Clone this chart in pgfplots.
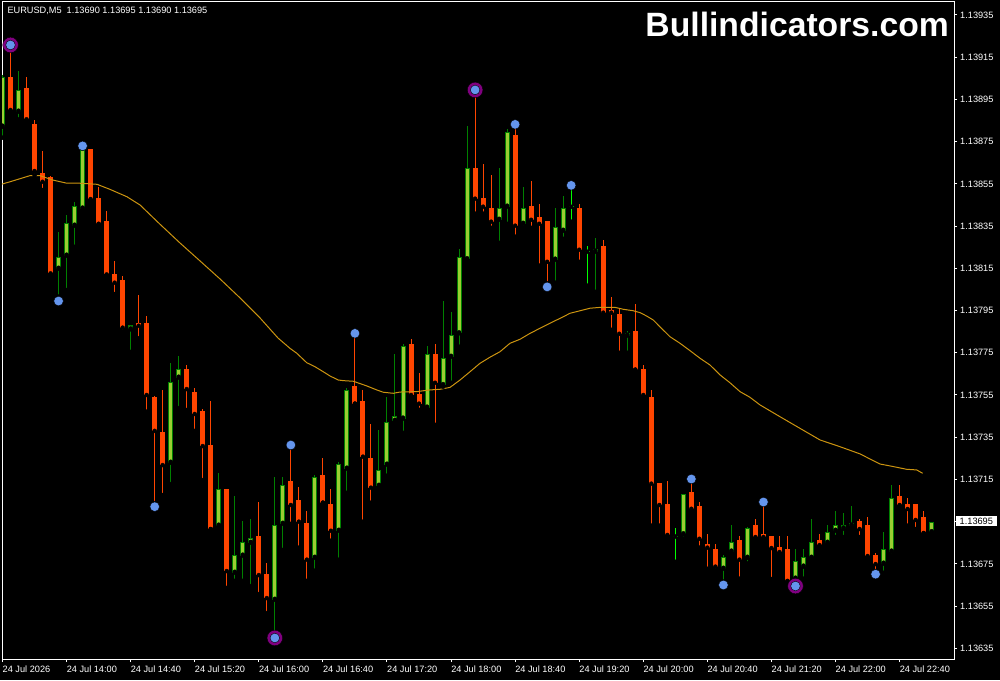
\documentclass[border=0pt]{standalone}
\usepackage{pgfplots}
\pgfplotsset{compat=1.18}
\usepackage{pgfplotstable}
\usepackage{fontspec}
\setmainfont{Liberation Sans}

\definecolor{bullfill}{HTML}{9ACD32}
\definecolor{bulledge}{HTML}{008000}
\definecolor{bear}{HTML}{FF4500}
\definecolor{doji}{HTML}{00FF00}
\definecolor{maline}{HTML}{CC9410}
\definecolor{fractal}{HTML}{6495ED}
\definecolor{ring}{HTML}{800080}

% prices in units of 0.00001 above 1.13000 (e.g. 935 = 1.13935)
\pgfplotstableread{
i O H L C
0 882.1 906.6 876.9 905.8
2 889.2 908.6 885.6 899.5
7 814.8 832.2 801.6 820.4
8 821.0 840.3 804.7 836.5
9 835.2 846.4 825.2 844.5
10 843.3 871.5 841.8 871.1
16 786.1 788.2 775.4 788.2
21 722.9 770.2 712.8 761.2
22 763.2 773.5 748.8 767.3
27 693.1 718.0 693.1 710.5
29 670.8 707.2 667.0 679.2
30 678.9 695.3 667.0 685.4
31 685.0 696.3 664.5 687.3
34 658.0 716.2 641.8 693.4
35 694.0 716.2 681.6 712.4
39 677.9 717.1 671.8 716.2
42 690.7 723.3 677.0 722.3
43 720.1 758.3 708.7 757.4
47 712.0 738.4 711.1 719.5
48 722.0 754.1 716.8 742.2
49 742.8 774.4 742.8 745.1
50 743.8 779.2 737.1 778.2
53 749.0 778.2 749.0 774.4
55 759.7 799.5 758.9 772.5
56 773.1 794.3 760.8 783.3
57 784.2 824.2 777.9 820.2
58 819.3 882.4 819.3 862.4
62 838.0 862.5 827.1 843.4
63 844.2 881.0 836.1 879.6
65 836.1 853.5 834.2 843.6
69 819.1 843.6 808.2 834.6
70 832.8 849.3 829.0 843.6
74 822.9 829.4 803.9 824.0
78 783.1 785.3 775.0 784.2
85 689.0 708.1 686.9 708.0
90 672.7 679.2 666.6 678.3
91 680.8 693.4 680.0 685.2
93 677.9 692.5 675.2 691.9
99 668.0 682.0 665.9 676.4
100 673.7 682.0 668.0 678.3
101 677.9 696.3 677.9 685.4
103 685.0 693.4 683.9 690.1
104 690.7 700.0 687.7 693.4
105 691.7 699.1 687.7 693.4
106 693.1 702.4 691.5 694.4
110 675.1 690.1 670.8 682.0
111 680.8 712.4 678.9 706.2
116 690.0 695.0 690.0 695.0
}\bull

\pgfplotstableread{
i O H L C
1 905.8 919.8 889.2 890.0
3 900.4 905.8 884.9 885.6
4 883.4 885.3 859.1 861.1
5 860.2 870.6 852.1 856.0
6 858.3 858.7 811.8 812.6
11 871.5 871.5 847.0 847.8
12 848.3 853.7 836.0 836.1
13 837.4 842.2 811.8 812.1
14 812.3 818.5 802.8 808.2
15 809.5 811.4 785.0 786.9
17 789.0 802.4 781.9 787.8
18 789.0 792.4 747.1 755.0
19 754.1 754.5 703.8 738.0
20 737.5 757.4 707.6 721.8
23 767.3 769.2 747.9 757.8
24 756.4 758.3 738.0 746.0
25 747.4 748.4 714.7 730.8
26 731.3 752.2 691.5 691.5
28 710.5 710.5 663.6 671.6
32 688.2 704.3 660.7 669.7
33 670.2 675.4 651.7 658.8
36 714.3 729.9 694.0 702.9
37 705.3 711.4 682.7 695.0
38 694.4 700.1 667.0 677.0
40 717.1 725.2 704.0 704.0
41 703.4 710.5 686.0 690.7
44 759.3 782.9 750.9 750.9
45 752.2 757.4 695.0 725.8
46 725.2 741.3 704.0 711.1
51 779.2 781.5 753.6 755.0
52 755.5 765.4 748.0 750.9
54 774.4 779.2 740.9 760.8
59 862.4 898.5 840.9 848.0
60 848.3 864.4 840.9 844.2
61 843.6 859.2 834.2 837.1
64 878.2 882.2 830.0 835.2
66 844.5 856.4 834.2 838.0
67 839.5 845.5 816.3 836.1
68 837.4 837.4 807.9 818.1
72 843.6 845.5 818.1 823.8
75 825.6 828.4 793.0 794.0
76 795.3 801.4 785.9 794.0
77 793.4 796.1 775.0 784.0
79 785.3 798.1 767.0 767.0
80 767.3 769.2 753.7 755.0
81 754.1 757.4 693.1 713.0
82 713.3 713.3 693.1 702.9
83 703.4 714.3 687.9 688.7
86 709.1 713.8 699.7 701.1
87 702.4 704.3 682.7 686.9
88 684.4 689.1 672.7 682.7
89 682.0 684.4 671.8 673.7
92 686.3 688.2 668.0 677.0
94 693.4 696.3 685.8 687.7
95 689.1 702.9 686.8 687.7
96 688.2 688.2 667.8 682.5
97 683.0 688.2 678.7 680.6
98 682.0 688.2 666.9 666.9
102 686.3 689.1 682.5 683.9
107 695.3 696.3 687.7 691.5
108 693.4 697.2 676.8 678.7
109 679.2 680.1 671.6 674.9
112 707.2 712.4 701.0 702.9
113 703.4 706.2 693.1 701.0
114 703.4 703.4 691.5 695.8
115 697.2 700.0 689.6 689.6
}\bear

\pgfplotstableread{
i O H L C
71 844.4 853.3 837.1 844.4
73 823.1 825.6 806.8 823.1
84 688.2 692.0 676.0 688.2
}\doji

\begin{document}
\begin{tikzpicture}
\fill[black] (0,0) rectangle (1000pt,680pt);
\begin{axis}[
  at={(2pt,21pt)}, anchor=south west,
  scale only axis, width=952pt, height=657pt,
  xmin=-0.0624, xmax=118.79, ymin=629.94, ymax=941.16,
  axis background/.style={fill=black},
  axis line style={white, line width=1pt},
  xtick={0,8,...,112},
  xticklabels={24 Jul 2026,24 Jul 14:00,24 Jul 14:40,24 Jul 15:20,24 Jul 16:00,24 Jul 16:40,24 Jul 17:20,24 Jul 18:00,24 Jul 18:40,24 Jul 19:20,24 Jul 20:00,24 Jul 20:40,24 Jul 21:20,24 Jul 22:00,24 Jul 22:40},
  ytick={635,655,...,935},
  yticklabels={1.13635,1.13655,1.13675,{},1.13715,1.13735,1.13755,1.13775,1.13795,1.13815,1.13835,1.13855,1.13875,1.13895,1.13915,1.13935},
  xtick pos=lower, ytick pos=right,
  xticklabel pos=lower, yticklabel pos=right,
  tick align=outside,
  major tick length=3pt,
  tick style={white, line width=1pt},
  tick label style={font=\fontsize{9.2}{10}\selectfont, text=white},
  xticklabel style={anchor=base west, inner sep=0pt, yshift=-10.3pt},
  yticklabel style={anchor=west, inner sep=0pt, xshift=3pt},
  clip=true,
]
% wicks
\addplot[forget plot, only marks, mark=none, error bars/.cd, y dir=plus, y explicit, error mark=none,
  error bar style={draw=bulledge, solid, line width=1pt}]
  table[x=i, y=L, y error plus expr={\thisrow{H}-\thisrow{L}}]{\bull};
\addplot[forget plot, only marks, mark=none, error bars/.cd, y dir=plus, y explicit, error mark=none,
  error bar style={draw=bear, solid, line width=1pt}]
  table[x=i, y=L, y error plus expr={\thisrow{H}-\thisrow{L}}]{\bear};
\addplot[forget plot, only marks, mark=none, error bars/.cd, y dir=plus, y explicit, error mark=none,
  error bar style={draw=doji, solid, line width=1pt}]
  table[x=i, y=L, y error plus expr={\thisrow{H}-\thisrow{L}}]{\doji};
% bodies
\addplot[forget plot, only marks, mark=none, error bars/.cd, y dir=plus, y explicit, error mark=none,
  error bar style={draw=bulledge, solid, line width=5pt}]
  table[x=i, y=O, y error plus expr={\thisrow{C}-\thisrow{O}}]{\bull};
\addplot[forget plot, only marks, mark=none, error bars/.cd, y dir=plus, y explicit, error mark=none,
  error bar style={draw=bullfill, solid, line width=3pt}]
  table[x=i, y expr={\thisrow{O}+0.47}, y error plus expr={max(\thisrow{C}-\thisrow{O}-0.95,0)}]{\bull};
\addplot[forget plot, only marks, mark=none, error bars/.cd, y dir=plus, y explicit, error mark=none,
  error bar style={draw=bear, solid, line width=5pt}]
  table[x=i, y=C, y error plus expr={\thisrow{O}-\thisrow{C}}]{\bear};
\addplot[forget plot, only marks, mark=none, error bars/.cd, y dir=plus, y explicit, error mark=none,
  error bar style={draw=doji, solid, line width=5pt}]
  table[x=i, y expr={\thisrow{O}-0.24}, y error plus expr={0.48}]{\doji};
% moving average
\addplot[maline, line width=1pt, mark=none] coordinates {
(-0.06,854.9) (0.94,856.0) (3.43,858.9) (4.68,858.9) (6.30,856.8) (8.05,855.3) (9.68,855.3) (11.80,854.8) (13.42,852.4) (15.54,848.9) (17.17,845.0) (19.66,835.9) (22.16,827.0) (24.66,818.5) (27.15,810.0) (29.65,801.0) (32.15,791.5) (34.39,782.0) (35.89,777.1) (36.73,774.8) (37.98,770.3) (39.01,768.4) (40.05,766.0) (40.89,764.0) (41.92,762.1) (42.55,761.8) (43.80,761.5) (45.47,759.3) (46.72,757.4) (47.54,756.3) (48.79,755.8) (49.63,756.4) (51.71,756.6) (53.37,757.4) (54.62,757.7) (55.87,758.6) (57.12,762.1) (58.36,766.0) (59.61,770.0) (60.86,772.9) (62.11,775.5) (63.36,779.5) (64.61,781.4) (65.86,784.2) (67.10,786.6) (68.35,789.0) (69.60,791.3) (70.85,793.7) (72.10,794.9) (73.35,796.1) (74.59,796.5) (76.47,796.5) (77.50,795.6) (78.75,794.9) (79.59,794.0) (80.42,792.4) (81.25,790.5) (82.08,787.3) (83.33,782.6) (84.58,779.5) (85.83,776.0) (87.08,772.4) (88.33,769.2) (89.58,764.5) (90.82,760.8) (92.07,756.6) (93.32,753.9) (94.57,750.3) (97.07,744.7) (99.56,739.2) (102.06,733.7) (104.56,730.5) (107.05,727.1) (109.55,722.3) (110.80,721.4) (112.88,719.8) (114.13,719.5) (114.88,717.9)
};
% strong fractals (ring)
\addplot[only marks, mark=*, mark size=7.8pt, mark options={fill=ring, draw=none}] coordinates {
(1,920.8) (34,639.9) (59,899.5) (99,664.5)};
% fractal dots
\addplot[only marks, mark=*, mark size=4.8pt, mark options={fill=fractal, draw=none}] coordinates {
(1,920.8) (34,639.9) (59,899.5) (99,664.5)
(7,799.5) (10,873.0) (19,702.1) (36,731.3) (44,784.2) (64,883.2) (68,806.2) (71,854.3) (86,715.2) (90,665.0) (95,704.3) (109,670.1)};
\end{axis}
% current price label on the price scale
\node[fill=white, text=black, anchor=west, inner xsep=4pt, inner ysep=1.8pt, text height=6.6pt, text depth=0pt,
  font=\fontsize{9.2}{10}\selectfont] at (955.5pt,159pt) {1.13695};
\node[anchor=base west, text=white, inner sep=0pt, font=\fontsize{9.2}{10}\selectfont] at (7.3pt,666.7pt)
  {EURUSD,M5\hspace{5pt}1.13690 1.13695 1.13690 1.13695};
\node[anchor=base east, text=white, inner sep=0pt, font=\fontsize{33.7}{36}\selectfont\bfseries] at (949pt,643.3pt)
  {Bullindicators.com};
\pgfresetboundingbox
\useasboundingbox (0,0) rectangle (1000pt,680pt);
\end{tikzpicture}
\end{document}
